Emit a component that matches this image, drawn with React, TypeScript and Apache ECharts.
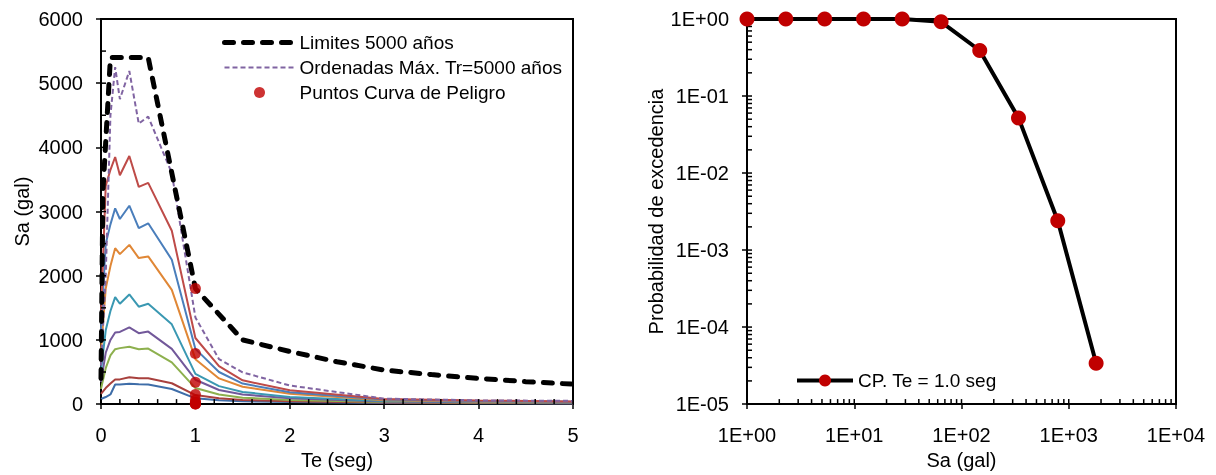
import React, { useEffect, useRef } from "react";
import * as echarts from "echarts";

// ---------- DATA ----------
const teVals = [0, 0.05, 0.1, 0.15, 0.2, 0.3, 0.4, 0.5, 0.75, 1, 1.25, 1.5, 2, 3, 4, 5];

const specLowBlue = [80, 110, 150, 305, 305, 318, 308, 305, 235, 90, 60, 45, 32, 18, 14, 11];
const specLowRed = [160, 250, 320, 385, 385, 418, 402, 402, 325, 140, 90, 65, 45, 25, 18, 15];
const specGreen = [237, 560, 760, 856, 872, 893, 856, 866, 650, 250, 150, 100, 65, 33, 25, 20];
const specPurple = [345, 800, 1000, 1115, 1125, 1195, 1105, 1130, 860, 380, 220, 150, 90, 40, 30, 24];
const specTeal = [521, 1150, 1450, 1667, 1563, 1708, 1517, 1563, 1243, 470, 280, 190, 110, 48, 35, 28];
const specOrange = [833, 1800, 2150, 2430, 2337, 2481, 2275, 2301, 1780, 700, 400, 270, 160, 60, 42, 34];
const specBlue = [1150, 2500, 2800, 3050, 2884, 3091, 2740, 2817, 2250, 860, 500, 320, 185, 70, 48, 38];
const specRed = [1400, 3400, 3650, 3850, 3565, 3865, 3385, 3447, 2700, 1030, 590, 370, 215, 80, 55, 42];
const ordenadasMax = [600, 2000, 4500, 5250, 4750, 5190, 4370, 4480, 3600, 1350, 700, 495, 290, 85, 58, 50];

const limTe = [0, 0.02, 0.1, 0.5, 1, 1.5, 2, 2.5, 3, 3.5, 4, 4.5, 5];
const limSa = [400, 3300, 5400, 5400, 1800, 1000, 820, 660, 530, 460, 400, 350, 310];

const hazardTe = 1.0;
const hazardSa = [1, 2.3, 5.3, 12.2, 28, 64.5, 148, 340, 790, 1800];
const hazardProb = [1, 1, 1, 1, 1, 0.92, 0.39, 0.052, 0.0024, 0.000034];

const leftXTicks = [0, 1, 2, 3, 4, 5];
const leftYTicks = [0, 1000, 2000, 3000, 4000, 5000, 6000];

const FONT = "'Liberation Sans', Arial, sans-serif";

function zip(xs: number[], ys: number[]) {
  return ys.map((y, i) => [xs[i], y]);
}

function expLabel(v: number) {
  const e = Math.round(Math.log10(v));
  return "1E" + (e < 0 ? "-" : "+") + String(Math.abs(e)).padStart(2, "0");
}

function tickSeries(name: string, xi: number, yi: number, data: number[][], dir: "up" | "right") {
  return {
    name,
    type: "custom",
    xAxisIndex: xi,
    yAxisIndex: yi,
    silent: true,
    clip: false,
    z: 5,
    data,
    renderItem: (_p: any, api: any) => {
      const pt = api.coord([api.value(0), api.value(1)]);
      const x = pt[0];
      const y = pt[1];
      return {
        type: "line",
        shape: dir === "up" ? { x1: x, y1: y, x2: x, y2: y - 5 } : { x1: x, y1: y, x2: x + 5, y2: y },
        style: { stroke: "#000", lineWidth: 1.5 },
      };
    },
  };
}

export default function App() {
  const ref = useRef<HTMLDivElement>(null);
  useEffect(() => {
    if (!ref.current) return;
    const chart = echarts.init(ref.current, undefined, { renderer: "svg" });

    const solids = [
      { d: specLowBlue, c: "#3E6DA8" },
      { d: specLowRed, c: "#A8403D" },
      { d: specGreen, c: "#8DB04E" },
      { d: specPurple, c: "#72589A" },
      { d: specTeal, c: "#3A98B2" },
      { d: specOrange, c: "#E08736" },
      { d: specBlue, c: "#4A7EBB" },
      { d: specRed, c: "#BE4B48" },
    ];

    const lxMinor: number[][] = [];
    for (let i = 0; i <= 25; i++) lxMinor.push([i * 0.2, 0]);
    const lyMinor: number[][] = [];
    for (let i = 0; i <= 12; i++) lyMinor.push([0, i * 500]);
    const rxMinor: number[][] = [];
    for (let e = 0; e < 4; e++) for (let m = 1; m <= 9; m++) rxMinor.push([m * Math.pow(10, e), 1e-5]);
    rxMinor.push([1e4, 1e-5]);
    const ryMinor: number[][] = [];
    for (let e = -5; e < 0; e++) for (let m = 1; m <= 9; m++) ryMinor.push([1, m * Math.pow(10, e)]);
    ryMinor.push([1, 1]);

    const axisCommon = {
      axisLine: { show: true, lineStyle: { color: "#000", width: 2 } },
      axisTick: { show: true, inside: false, length: 5, lineStyle: { color: "#000", width: 1.5 } },
      splitLine: { show: false },
      nameTextStyle: { color: "#000", fontSize: 20, fontFamily: FONT },
    };
    const labelCommon = { color: "#000", fontSize: 20, fontFamily: FONT };
    const noSymbol = { opacity: 0, color: "transparent" };

    const option: any = {
      animation: false,
      textStyle: { fontFamily: FONT },
      grid: [
        { left: 101, top: 19, width: 472, height: 388, show: true, borderColor: "#000", borderWidth: 2, backgroundColor: "transparent" },
        { left: 747, top: 19, width: 429, height: 388, show: true, borderColor: "#000", borderWidth: 2, backgroundColor: "transparent" },
      ],
      xAxis: [
        {
          ...axisCommon,
          gridIndex: 0,
          type: "value",
          min: leftXTicks[0],
          max: leftXTicks[leftXTicks.length - 1],
          interval: 1,
          name: "Te (seg)",
          nameLocation: "middle",
          nameGap: 44,
          axisLabel: { ...labelCommon, margin: 21 },
        },
        {
          ...axisCommon,
          gridIndex: 1,
          type: "log",
          logBase: 10,
          min: 1,
          max: 10000,
          splitNumber: 4,
          name: "Sa (gal)",
          nameLocation: "middle",
          nameGap: 44,
          axisLabel: { ...labelCommon, margin: 21, formatter: (v: number) => expLabel(v) },
        },
      ],
      yAxis: [
        {
          ...axisCommon,
          gridIndex: 0,
          type: "value",
          min: leftYTicks[0],
          max: leftYTicks[leftYTicks.length - 1],
          interval: 1000,
          name: "Sa (gal)",
          nameLocation: "middle",
          nameGap: 69,
          axisLabel: { ...labelCommon, margin: 18, formatter: (v: number) => String(v) },
        },
        {
          ...axisCommon,
          gridIndex: 1,
          type: "log",
          logBase: 10,
          min: 0.00001,
          max: 1,
          splitNumber: 5,
          name: "Probabilidad de excedencia",
          nameLocation: "middle",
          nameGap: 81,
          axisLabel: { ...labelCommon, margin: 18, formatter: (v: number) => expLabel(v) },
        },
      ],
      legend: [
        {
          orient: "vertical",
          left: 222,
          top: 33,
          padding: 0,
          itemWidth: 70,
          itemHeight: 11,
          itemGap: 6,
          textStyle: { color: "#000", fontSize: 19, fontFamily: FONT },
          data: [
            { name: "Limites 5000 años", itemStyle: noSymbol, lineStyle: { width: 5, color: "#000", type: [9, 10], cap: "round" } },
            { name: "Ordenadas Máx. Tr=5000 años", itemStyle: noSymbol, lineStyle: { width: 2, color: "#8064A2", type: [5, 3] } },
            { name: "Puntos Curva de Peligro" },
          ],
          selectedMode: false,
        },
        {
          orient: "vertical",
          left: 795,
          top: 371,
          padding: 0,
          itemWidth: 56,
          itemHeight: 15,
          textStyle: { color: "#000", fontSize: 19, fontFamily: FONT },
          data: [{ name: "CP. Te = 1.0 seg", lineStyle: { width: 4, color: "#000" } }],
          selectedMode: false,
        },
      ],
      series: [
        ...solids.map((s, i) => ({
          name: "Espectro " + (i + 1),
          type: "line",
          xAxisIndex: 0,
          yAxisIndex: 0,
          data: zip(teVals, s.d),
          showSymbol: false,
          symbol: "none",
          lineStyle: { color: s.c, width: 2 },
          itemStyle: { color: s.c },
          z: 2,
        })),
        {
          name: "Ordenadas Máx. Tr=5000 años",
          type: "line",
          xAxisIndex: 0,
          yAxisIndex: 0,
          data: zip(teVals, ordenadasMax),
          symbol: "none",
          lineStyle: { color: "#8064A2", width: 2, type: [5, 3] },
          itemStyle: { color: "#8064A2" },
          z: 3,
        },
        {
          name: "Limites 5000 años",
          type: "line",
          xAxisIndex: 0,
          yAxisIndex: 0,
          data: zip(limTe, limSa),
          symbol: "none",
          lineStyle: { color: "#000", width: 5, type: [9, 10], cap: "round" },
          itemStyle: { color: "#000" },
          z: 4,
        },
        {
          name: "Puntos Curva de Peligro",
          type: "scatter",
          xAxisIndex: 0,
          yAxisIndex: 0,
          data: hazardSa.map((s) => [hazardTe, s]),
          symbol: "circle",
          symbolSize: 11,
          itemStyle: { color: "#C00000" },
          z: 6,
        },
        {
          name: "CP. Te = 1.0 seg",
          type: "line",
          xAxisIndex: 1,
          yAxisIndex: 1,
          data: zip(hazardSa, hazardProb),
          symbol: "circle",
          symbolSize: 15,
          showSymbol: true,
          lineStyle: { color: "#000", width: 4 },
          itemStyle: { color: "#C00000", borderWidth: 0 },
          z: 6,
        },
        tickSeries("tick-lx", 0, 0, lxMinor, "up"),
        tickSeries("tick-ly", 0, 0, lyMinor, "right"),
        tickSeries("tick-rx", 1, 1, rxMinor, "up"),
        tickSeries("tick-ry", 1, 1, ryMinor, "right"),
      ],
    };
    chart.setOption(option);
    return () => chart.dispose();
  }, []);
  return <div ref={ref} style={{ position: "fixed", left: 0, top: 0, width: 1216, height: 475 }} />;
}
